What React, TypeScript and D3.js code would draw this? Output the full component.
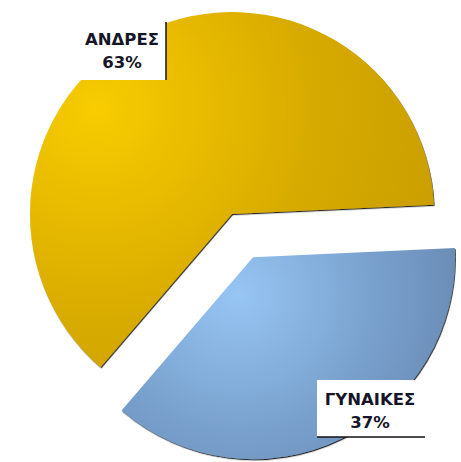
import React, { useRef, useEffect } from 'react'
import * as d3 from 'd3'

const labels = ['ΑΝΔΡΕΣ', 'ΓΥΝΑΙΚΕΣ']
const values = [63, 37]
const percentLabels = ['63%', '37%']
const exploded = [false, true]

const width = 461
const height = 462

const PieChart = () => {
  const svgRef = useRef<SVGSVGElement>(null)

  useEffect(() => {
    const svg = d3.select(svgRef.current)
    svg.selectAll('*').remove()

    const cx = 232
    const cy = 214
    const radius = 202
    const offset = 48

    const defs = svg.append('defs')

    // gradients are in each slice's local coords (origin = slice centre)
    // gold: brightest top-left, darker towards right / bottom
    const gGold = defs
      .append('radialGradient')
      .attr('id', 'gold')
      .attr('gradientUnits', 'userSpaceOnUse')
      .attr('cx', -135)
      .attr('cy', -105)
      .attr('r', 420)
    gGold.append('stop').attr('offset', 0).attr('stop-color', '#f8cc00')
    gGold.append('stop').attr('offset', 0.5).attr('stop-color', '#d8ab00')
    gGold.append('stop').attr('offset', 1).attr('stop-color', '#c39900')

    const gBlue = defs
      .append('radialGradient')
      .attr('id', 'blue')
      .attr('gradientUnits', 'userSpaceOnUse')
      .attr('cx', -15)
      .attr('cy', 38)
      .attr('r', 240)
    gBlue.append('stop').attr('offset', 0).attr('stop-color', '#97c5f3')
    gBlue.append('stop').attr('offset', 0.55).attr('stop-color', '#7aa2cf')
    gBlue.append('stop').attr('offset', 1).attr('stop-color', '#6788b0')

    const shadow = defs
      .append('filter')
      .attr('id', 'shadow')
      .attr('x', '-10%')
      .attr('y', '-10%')
      .attr('width', '120%')
      .attr('height', '120%')
    shadow
      .append('feDropShadow')
      .attr('dx', 0.8)
      .attr('dy', 1.2)
      .attr('stdDeviation', 0.7)
      .attr('flood-color', '#000')
      .attr('flood-opacity', 0.85)

    const fills = ['url(#gold)', 'url(#blue)']

    const pie = d3
      .pie<number>()
      .sort(null)
      .startAngle((220.6 * Math.PI) / 180)
      .endAngle((220.6 * Math.PI) / 180 + 2 * Math.PI)

    const arc = d3
      .arc<d3.PieArcDatum<number>>()
      .innerRadius(0)
      .outerRadius(radius)

    const arcs = pie(values)

    svg
      .append('g')
      .selectAll('path')
      .data(arcs)
      .join('path')
      .attr('transform', (d, i) => {
        if (!exploded[i]) return `translate(${cx},${cy})`
        const mid = (d.startAngle + d.endAngle) / 2
        const dx = Math.sin(mid) * offset
        const dy = -Math.cos(mid) * offset
        return `translate(${cx + dx},${cy + dy})`
      })
      .attr('d', arc)
      .attr('fill', (d, i) => fills[i])
      .attr('filter', 'url(#shadow)')

    // label boxes
    const font = "'DejaVu Sans', Verdana, sans-serif"

    const boxes = [
      { x: 70, y: 22, w: 96, h: 58, tx: 122, ty: 45, border: 'right' },
      { x: 317, y: 380, w: 108, h: 57, tx: 370, ty: 405, border: 'bottom' }
    ]

    boxes.forEach((b, i) => {
      const g = svg.append('g')
      g.append('rect')
        .attr('x', b.x)
        .attr('y', b.y)
        .attr('width', b.w)
        .attr('height', b.h)
        .attr('fill', '#fff')
      if (b.border === 'right') {
        g.append('line')
          .attr('x1', b.x + b.w)
          .attr('x2', b.x + b.w)
          .attr('y1', b.y)
          .attr('y2', b.y + b.h)
          .attr('stroke', '#111')
          .attr('stroke-width', 1.5)
      } else {
        g.append('line')
          .attr('x1', b.x)
          .attr('x2', b.x + b.w)
          .attr('y1', b.y + b.h)
          .attr('y2', b.y + b.h)
          .attr('stroke', '#111')
          .attr('stroke-width', 1.5)
      }
      const text = g
        .append('text')
        .attr('text-anchor', 'middle')
        .attr('font-family', font)
        .attr('font-weight', 'bold')
        .attr('font-size', 16.5)
        .attr('fill', '#161628')
      text.append('tspan').attr('x', b.tx).attr('y', b.ty).text(labels[i])
      text
        .append('tspan')
        .attr('x', b.tx)
        .attr('y', b.ty + 23)
        .text(percentLabels[i])
    })
  }, [])

  return (
    <svg
      ref={svgRef}
      width={width}
      height={height}
      viewBox={`0,0,${width},${height}`}
      style={{ position: 'absolute', left: 0, top: 0, background: '#fff' }}
    />
  )
}

export default function App() {
  return <PieChart />
}
